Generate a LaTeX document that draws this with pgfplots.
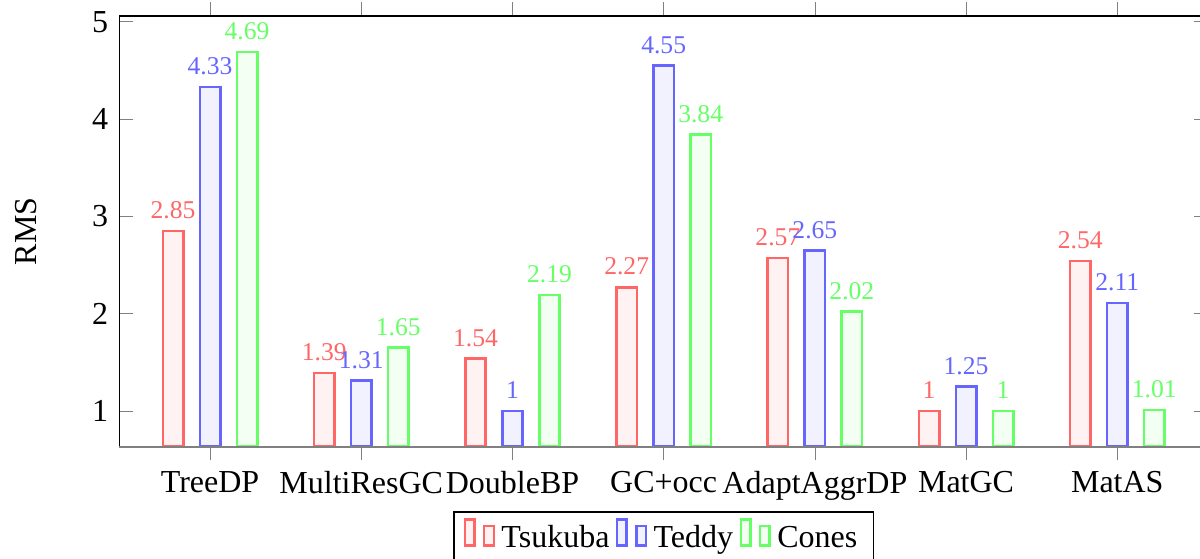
\documentclass[border=0pt]{standalone}
\usepackage{fontspec}
\setmainfont{Liberation Serif}
\usepackage{pgfplots}
\pgfplotsset{compat=1.18}
\begin{document}
\begin{tikzpicture}
\begin{axis}[
  name=ax,
  scale only axis,
  width=340.2pt, height=134.6pt,
  ybar=5.16pt,
  bar width=6.4pt,
  enlargelimits=0.1,
  /pgf/number format/assume math mode=true,
  ylabel={RMS},
  every axis y label/.style={at={([xshift=-29.2pt]axis description cs:0,0.5)}, rotate=90, anchor=center},
  xtick=data,
  xticklabels={TreeDP,MultiResGC,DoubleBP,GC+occ,AdaptAggrDP,MatGC,MatAS},
  ytick={1,2,3,4,5},
  nodes near coords,
  nodes near coords align={vertical},
  every node near coord/.append style={font=\footnotesize},
  legend style={at={(0.5,-0.15)}, anchor=north, legend columns=-1, draw=black},
]
\addplot[draw=red!60, fill=red!5, thick, every node near coord/.append style={text=red!60}] coordinates {(0,2.85) (1,1.39) (2,1.54) (3,2.27) (4,2.57) (5,1) (6,2.54)};
\addplot[draw=blue!60, fill=blue!5, thick, every node near coord/.append style={text=blue!60}] coordinates {(0,4.33) (1,1.31) (2,1) (3,4.55) (4,2.65) (5,1.25) (6,2.11)};
\addplot[draw=green!60, fill=green!5, thick, every node near coord/.append style={text=green!60}] coordinates {(0,4.69) (1,1.65) (2,2.19) (3,3.84) (4,2.02) (5,1) (6,1.01)};
\legend{Tsukuba,Teddy,Cones}
\end{axis}
\draw[gray, line width=0.6pt] (ax.south west) -- (ax.south east);
\pgfresetboundingbox
\path[use as bounding box] ([xshift=-37.3pt,yshift=-34.8pt]ax.south west) rectangle ([xshift=-2.5pt,yshift=5pt]ax.north east);
\end{tikzpicture}
\end{document}
